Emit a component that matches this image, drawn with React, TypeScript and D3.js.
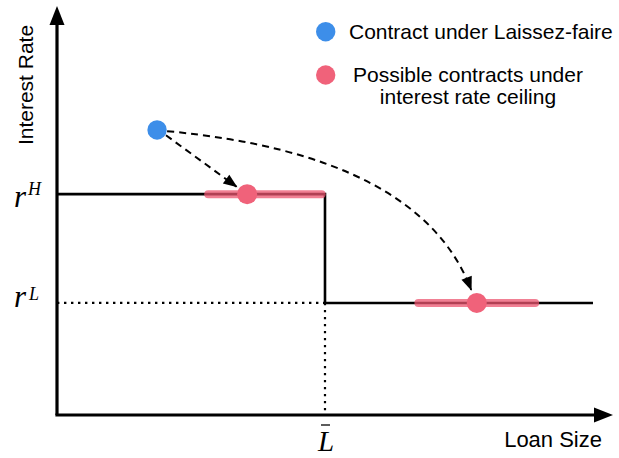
import React from "react";
import * as d3 from "d3";

// ---- data (abstract units: x = loan size, y = interest rate) ----
const lBar = 4.82;
const rHigh = 5.4;
const rLow = 2.74;
const xEnd = 9.64;
const laissezFaire = [{ x: 1.8, y: 6.97 }];
const ceilingContracts = [
  { x: 3.42, y: 5.4 },
  { x: 7.55, y: 2.74 },
];
const ceilingRanges = [
  { x0: 2.72, x1: 4.76, y: 5.4 },
  { x0: 6.5, x1: 8.6, y: 2.74 },
];
const straightArrow = [
  { x: 1.96, y: 6.84 },
  { x: 3.23, y: 5.58 },
];
const curvedArrow = [
  { x: 1.98, y: 6.94 },
  { x: 6.53, y: 6.36 },
  { x: 7.45, y: 3.06 },
];
const legendLabels = ["Contract under Laissez-faire", "Possible contracts under", "interest rate ceiling"];
const axisLabels = { x: "Loan Size", y: "Interest Rate" };

const W = 619;
const H = 458;
const BLUE = "#3D8EE9";
const RED = "#F0627A";

export default function App() {
  const x = d3.scaleLinear().domain([0, 10]).range([57, 613]);
  const y = d3.scaleLinear().domain([0, 10]).range([415, 6]);
  const sans = "'Liberation Sans', Arial, Helvetica, sans-serif";
  const serif = "'Liberation Serif', 'DejaVu Serif', serif";

  const stepPath = d3.line<[number, number]>()([
    [x(0), y(rHigh)],
    [x(lBar), y(rHigh)],
    [x(lBar), y(rLow)],
    [x(xEnd), y(rLow)],
  ]) as string;

  const p0 = curvedArrow[0], p1 = curvedArrow[1], p2 = curvedArrow[2];
  const curve = d3.path();
  curve.moveTo(x(p0.x), y(p0.y));
  curve.quadraticCurveTo(x(p1.x), y(p1.y), x(p2.x), y(p2.y));

  const straight = d3.line<{ x: number; y: number }>().x((d) => x(d.x)).y((d) => y(d.y))(straightArrow) as string;

  return (
    <svg width={W} height={H} style={{ position: "absolute", left: 0, top: 0, background: "#fff" }}>
      <defs>
        <marker id="ah" markerUnits="userSpaceOnUse" markerWidth={16} markerHeight={14} viewBox="-1 -7 16 14" refX={13} refY={0} orient="auto">
          <path d="M0,-5.5L14,0L0,5.5Z" fill="#000" />
        </marker>
      </defs>

      {/* axes */}
      <line x1={x(0)} y1={y(0)} x2={x(0)} y2={y(10) + 16} stroke="#000" strokeWidth={3.2} />
      <path d={`M${x(0)},${y(10)}L${x(0) - 7.5},${y(10) + 19}L${x(0) + 7.5},${y(10) + 19}Z`} fill="#000" />
      <line x1={x(0) - 1.6} y1={y(0)} x2={x(10) - 16} y2={y(0)} stroke="#000" strokeWidth={3.2} />
      <path d={`M${x(10)},${y(0)}L${x(10) - 19},${y(0) - 7.5}L${x(10) - 19},${y(0) + 7.5}Z`} fill="#000" />

      {/* dotted guides */}
      <line x1={x(0)} y1={y(rLow)} x2={x(lBar)} y2={y(rLow)} stroke="#000" strokeWidth={2.2} strokeDasharray="2.4,4.6" />
      <line x1={x(lBar)} y1={y(rLow)} x2={x(lBar)} y2={y(0)} stroke="#000" strokeWidth={2.2} strokeDasharray="2.4,4.6" />

      {/* step line */}
      <path d={stepPath} fill="none" stroke="#000" strokeWidth={2.6} />

      {/* ranges */}
      {ceilingRanges.map((r, i) => (
        <line key={i} x1={x(r.x0)} y1={y(r.y)} x2={x(r.x1)} y2={y(r.y)} stroke="#EC5670" strokeOpacity={0.75} strokeWidth={8} strokeLinecap="round" />
      ))}

      {/* arrows */}
      <path d={straight} fill="none" stroke="#000" strokeWidth={2} strokeDasharray="7,5" markerEnd="url(#ah)" />
      <path d={curve.toString()} fill="none" stroke="#000" strokeWidth={2} strokeDasharray="7,5" markerEnd="url(#ah)" />

      {/* points */}
      {laissezFaire.map((p, i) => (
        <circle key={i} cx={x(p.x)} cy={y(p.y)} r={9.7} fill={BLUE} />
      ))}
      {ceilingContracts.map((p, i) => (
        <circle key={i} cx={x(p.x)} cy={y(p.y)} r={10} fill={RED} />
      ))}

      {/* tick labels */}
      <text x={14} y={y(rHigh) + 13} fontFamily={serif} fontStyle="italic" fontSize={31}>
        r
      </text>
      <text x={28} y={y(rHigh) + 1} fontFamily={serif} fontStyle="italic" fontSize={18}>
        H
      </text>
      <text x={14} y={y(rLow) + 4} fontFamily={serif} fontStyle="italic" fontSize={31}>
        r
      </text>
      <text x={29} y={y(rLow) - 3} fontFamily={serif} fontStyle="italic" fontSize={18}>
        L
      </text>
      <text x={x(lBar) + 1} y={451} fontFamily={serif} fontStyle="italic" fontSize={29} textAnchor="middle">
        L
      </text>
      <line x1={x(lBar) - 4} x2={x(lBar) + 5} y1={425} y2={425} stroke="#333" strokeWidth={1.6} />

      {/* axis titles */}
      <text x={602} y={447} fontFamily={sans} fontSize={22} textAnchor="end">
        {axisLabels.x}
      </text>
      <text transform="translate(33,85) rotate(-90)" fontFamily={sans} fontSize={21} textAnchor="middle">
        {axisLabels.y}
      </text>

      {/* legend */}
      <circle cx={325.7} cy={31.7} r={9.7} fill={BLUE} />
      <circle cx={325.7} cy={75} r={9.7} fill={RED} />
      <text x={349} y={39} fontFamily={sans} fontSize={21}>
        {legendLabels[0]}
      </text>
      <text x={468} y={82} fontFamily={sans} fontSize={21} textAnchor="middle">
        {legendLabels[1]}
      </text>
      <text x={468} y={104} fontFamily={sans} fontSize={21} textAnchor="middle">
        {legendLabels[2]}
      </text>
    </svg>
  );
}
